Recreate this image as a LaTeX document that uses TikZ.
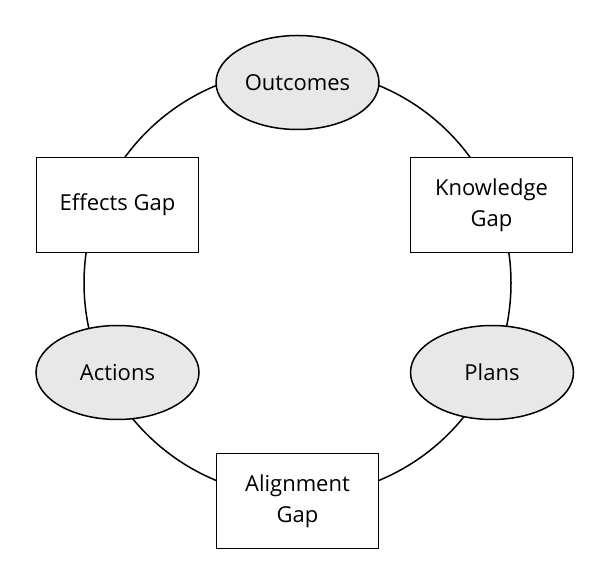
\documentclass[tikz,border=0pt]{standalone}
\usepackage{fontspec}
\setmainfont{Open Sans}
\usetikzlibrary{shapes.geometric}
\tikzset{
  oval/.style={ellipse, draw=black, fill=gray!18, line width=1.5pt, minimum width=163pt, minimum height=94pt, inner sep=0pt, font=\fontsize{22}{31}\selectfont, align=center},
  gapbox/.style={rectangle, draw=black, fill=white, line width=1.5pt, minimum width=162pt, minimum height=95pt, inner sep=0pt, font=\fontsize{22}{31}\selectfont, align=center},
  ring/.style={draw=black, line width=1.5pt}
}
\begin{document}
\begin{tikzpicture}[x=1pt,y=1pt]
\useasboundingbox (0,0) rectangle (604,583);
\coordinate (c) at (297.5,300);
\draw[ring] (c) circle (213.5);
\node[oval] (outcomes) at (297.5,500.5) {Outcomes};
\node[gapbox] (knowledge) at (491.5,378) {Knowledge\\Gap};
\node[oval] (plans) at (492,210.5) {Plans};
\node[gapbox] (alignment) at (297.5,82) {Alignment\\Gap};
\node[oval] (actions) at (117.5,210.5) {Actions};
\node[gapbox] (effects) at (117.5,378) {Effects Gap};
\end{tikzpicture}
\end{document}
